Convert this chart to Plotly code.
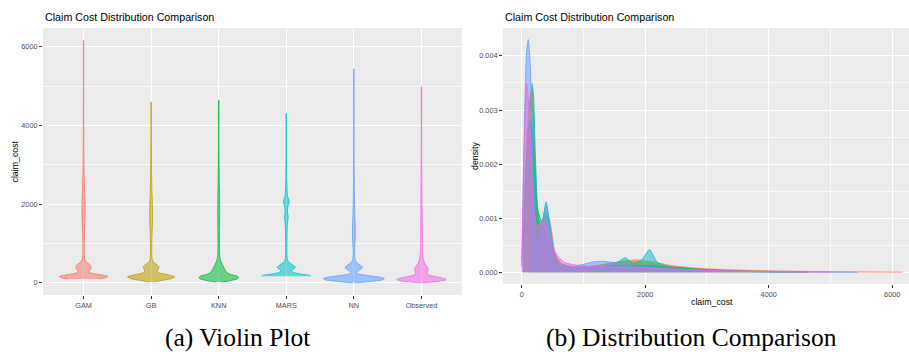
import plotly.graph_objects as go

# Models compared, in plotting order, with the ggplot hue palette
models = ["GAM", "GB", "KNN", "MARS", "NN", "Observed"]
colors = ["#F8766D", "#B79F00", "#00BA38", "#00BFC4", "#619CFF", "#F564E3"]

# Estimated kernel density of claim_cost for each model (cost, density)
gam_cost = [100, 130, 165, 200, 240, 280, 330, 380, 430, 480, 530, 580, 650, 800, 1000,
            1300, 1600, 1850, 2100, 2400, 2800, 3300, 4000, 5000, 6170]
gam_dens = [0.0022, 0.0031, 0.00343, 0.0026, 0.0012, 0.00075, 0.0009, 0.00105, 0.00103, 0.0008,
            0.0004, 0.00022, 0.00013, 0.0001, 0.0001, 0.00014, 0.0002, 0.00023, 0.0002, 0.00013,
            0.00008, 0.00005, 0.00003, 0.000012, 0.000004]

gb_cost = [20, 60, 100, 150, 200, 250, 300, 350, 400, 450, 500, 550, 620, 800, 1100, 1400,
           1700, 2000, 2300, 2700, 3200, 3800, 4600]
gb_dens = [0.0003, 0.0014, 0.0027, 0.00334, 0.0025, 0.0012, 0.00088, 0.001, 0.00112, 0.0009,
           0.0005, 0.00025, 0.00012, 0.00009, 0.0001, 0.00016, 0.0002, 0.00018, 0.00012, 0.00007,
           0.00004, 0.00002, 0.000005]

knn_cost = [20, 60, 100, 130, 170, 220, 270, 330, 400, 480, 560, 650, 800, 1000, 1300, 1700,
            2100, 2500, 3000, 3600, 4650]
knn_dens = [0.0004, 0.0017, 0.0026, 0.0028, 0.0026, 0.0016, 0.0011, 0.00092, 0.0007, 0.00048,
            0.00028, 0.00016, 0.00011, 0.0001, 0.00011, 0.00013, 0.00012, 0.00009, 0.00005,
            0.00002, 0.000005]

mars_cost = [165, 190, 220, 260, 300, 340, 395, 440, 490, 540, 600, 700, 900, 1200, 1500, 1680,
             1800, 1950, 2070, 2200, 2400, 2700, 3200, 3700, 4310]
mars_dens = [0.0035, 0.0033, 0.0022, 0.0011, 0.0007, 0.00095, 0.0013, 0.001, 0.0006, 0.00028,
             0.00014, 0.0001, 0.00008, 0.0001, 0.00015, 0.00027, 0.00016, 0.00024, 0.00042,
             0.00018, 0.0001, 0.00006, 0.00003, 0.000015, 0.000004]

nn_cost = [0, 40, 80, 107, 140, 180, 220, 260, 300, 350, 400, 450, 500, 560, 650, 800, 1000,
           1200, 1350, 1500, 1700, 2000, 2400, 2900, 3500, 4300, 5440]
nn_dens = [0.0002, 0.0025, 0.0041, 0.0043, 0.0038, 0.0022, 0.0008, 0.00035, 0.0006, 0.00105,
           0.00122, 0.0009, 0.0005, 0.00022, 0.00012, 0.0001, 0.00015, 0.0002, 0.0002, 0.00018,
           0.00013, 0.0001, 0.00006, 0.00004, 0.00002, 0.00001, 0.000003]

obs_cost = [0, 40, 80, 120, 160, 200, 250, 300, 340, 380, 430, 480, 530, 600, 700, 850, 1000,
            1200, 1500, 1800, 2200, 2700, 3300, 4000, 5000]
obs_dens = [0.0001, 0.0023, 0.0035, 0.003, 0.0019, 0.0011, 0.00082, 0.0009, 0.00095, 0.0009,
            0.0007, 0.0005, 0.0004, 0.00028, 0.00018, 0.00014, 0.00012, 0.00011, 0.0001, 0.00009,
            0.00007, 0.00005, 0.00003, 0.000015, 0.000005]

costs = [gam_cost, gb_cost, knn_cost, mars_cost, nn_cost, obs_cost]
densities = [gam_dens, gb_dens, knn_dens, mars_dens, nn_dens, obs_dens]

y_ticks = [0, 2000, 4000, 6000]
x_ticks = [0, 2000, 4000, 6000]
dens_ticks = [0.000, 0.001, 0.002, 0.003, 0.004]


def rgba(hex_color, alpha):
    h = hex_color.lstrip("#")
    r, g, b = int(h[0:2], 16), int(h[2:4], 16), int(h[4:6], 16)
    return f"rgba({r},{g},{b},{alpha})"


W, H = 909, 352
fig = go.Figure()

# Violins: widths scaled so the largest density across models spans 0.9
dmax = max(max(d) for d in densities)
cmin = min(min(c) for c in costs)
cmax = max(max(c) for c in costs)
for i, (name, col, c, d) in enumerate(zip(models, colors, costs, densities), start=1):
    half = [0.45 * v / dmax for v in d]
    xs = [i + h for h in half] + [i - h for h in half[::-1]]
    ys = list(c) + list(c[::-1])
    fig.add_trace(go.Scatter(
        x=xs, y=ys, mode="lines", fill="toself", fillcolor=rgba(col, 0.55),
        line=dict(color=col, width=0.8, shape="spline", smoothing=0.6),
        xaxis="x", yaxis="y", name=name, hoverinfo="skip"))

# Overlaid density curves
for name, col, c, d in zip(models, colors, costs, densities):
    fig.add_trace(go.Scatter(
        x=c, y=d, mode="lines", fill="tozeroy", fillcolor=rgba(col, 0.5),
        line=dict(color=col, width=0.8, shape="spline", smoothing=0.6),
        xaxis="x2", yaxis="y2", name=name, hoverinfo="skip"))

tick_font = dict(family="Liberation Sans", size=7.3, color="#4D4D4D")
grid = dict(showgrid=True, gridcolor="white", gridwidth=1.1, zeroline=False,
            ticks="outside", ticklen=3, tickwidth=0.8, tickcolor="#333333",
            tickfont=tick_font, showline=False)
minor_grid = dict(showgrid=True, gridcolor="rgba(255,255,255,0.75)", gridwidth=0.5, ticks="")

c_span = cmax - cmin
d_span = dmax

fig.update_layout(
    template="none",
    width=W, height=H, margin=dict(l=0, r=0, t=0, b=0),
    paper_bgcolor="white", plot_bgcolor="#EBEBEB", showlegend=False,
    font=dict(family="Liberation Sans", color="#4D4D4D"),
    xaxis=dict(domain=[43 / W, 462 / W], range=[0.4, 6.6], anchor="y",
               tickvals=list(range(1, len(models) + 1)), ticktext=models, **grid),
    yaxis=dict(domain=[1 - 295 / H, 1 - 28 / H], anchor="x",
               range=[cmin - 0.05 * c_span, cmax + 0.05 * c_span],
               tickvals=y_ticks, ticktext=[str(v) for v in y_ticks],
               minor=dict(dtick=1000, tick0=0, **minor_grid), **grid),
    xaxis2=dict(domain=[503 / W, 1.0], range=[-303, 6272], anchor="y2",
                tickvals=x_ticks, ticktext=[str(v) for v in x_ticks],
                minor=dict(dtick=1000, tick0=0, **minor_grid), **grid),
    yaxis2=dict(domain=[1 - 284 / H, 1 - 28 / H], anchor="x2",
                range=[-0.05 * d_span, 1.05 * d_span],
                tickvals=dens_ticks, ticktext=[f"{v:.3f}" for v in dens_ticks],
                minor=dict(dtick=0.0005, tick0=0, **minor_grid), **grid),
)

title_font = dict(family="Liberation Sans", size=10.7, color="black")
axis_title_font = dict(family="Liberation Sans", size=8.8, color="black")
caption_font = dict(family="Liberation Serif", size=25.5, color="black")

annotations = [
    dict(text="Claim Cost Distribution Comparison", x=43 / W, y=1 - 17 / H,
         xanchor="left", yanchor="middle", font=title_font),
    dict(text="Claim Cost Distribution Comparison", x=503 / W, y=1 - 17 / H,
         xanchor="left", yanchor="middle", font=title_font),
    dict(text="claim_cost", x=15 / W, y=1 - 161.5 / H, textangle=-90,
         xanchor="center", yanchor="middle", font=axis_title_font),
    dict(text="density", x=475 / W, y=1 - 156 / H, textangle=-90,
         xanchor="center", yanchor="middle", font=axis_title_font),
    dict(text="claim_cost", x=712 / W, y=1 - 302 / H,
         xanchor="center", yanchor="middle", font=axis_title_font),
    dict(text="(a) Violin Plot", x=237.5 / W, y=1 - 337 / H,
         xanchor="center", yanchor="middle", font=caption_font),
    dict(text="(b) Distribution Comparison", x=691 / W, y=1 - 337 / H,
         xanchor="center", yanchor="middle", font=caption_font),
]
for a in annotations:
    a.update(xref="paper", yref="paper", showarrow=False)
fig.update_layout(annotations=annotations)

fig.write_html("out.html")
